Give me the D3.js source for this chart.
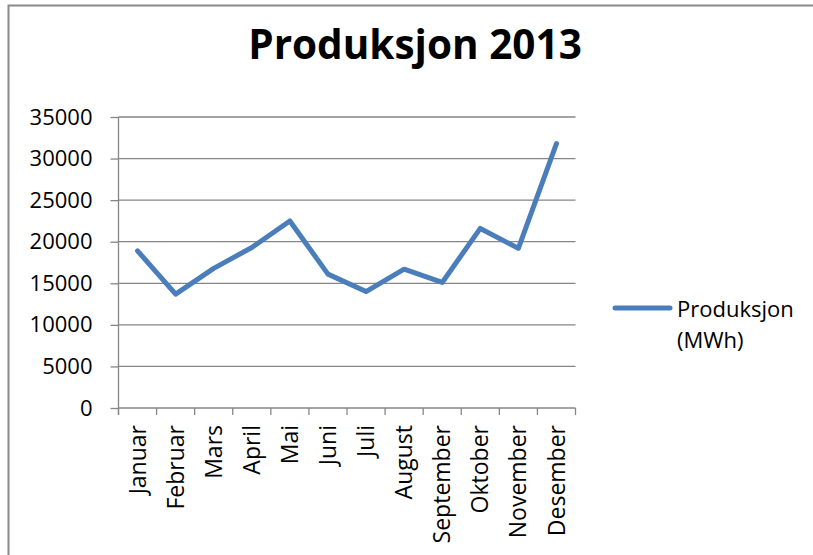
<!DOCTYPE html>
<html>
<head>
<meta charset="utf-8">
<script src="https://cdn.jsdelivr.net/npm/d3@7"></script>
<style>
body { margin: 0; background: #fff; }
text { font-family: "Open Sans", sans-serif; fill: #000; }
</style>
</head>
<body>
<svg width="813" height="555"></svg>
<script>
var months = ["Januar", "Februar", "Mars", "April", "Mai", "Juni", "Juli",
              "August", "September", "Oktober", "November", "Desember"];
var produksjon = [18900, 13700, 16800, 19300, 22500, 16100, 14000, 16700, 15100, 21600, 19200, 31800];
var yTicks = [0, 5000, 10000, 15000, 20000, 25000, 30000, 35000];
var title = "Produksjon 2013";
var legendLines = ["Produksjon", "(MWh)"];

var svg = d3.select("svg");
var margin = {top: 117, left: 118.5},
    width = 457,
    height = 291;
var gridColor = "#868686",
    lineColor = "#4a7ebb";

// outer chart border (right and bottom are cut off)
svg.append("path")
    .attr("d", "M8.5,555V5.5H813")
    .attr("fill", "none")
    .attr("stroke", "#8a8a8a")
    .attr("stroke-width", 2);

svg.append("text")
    .attr("x", 415)
    .attr("y", 59)
    .attr("text-anchor", "middle")
    .style("font-size", "40.5px")
    .style("font-weight", "bold")
    .text(title);

var x = d3.scaleBand().domain(months).range([0, width]).padding(0),
    y = d3.scaleLinear().domain([0, 35000]).range([height, 0]);

var g = svg.append("g")
    .attr("transform", "translate(" + margin.left + "," + margin.top + ")");

// gridlines
g.selectAll(".grid")
    .data(yTicks)
    .enter().append("line")
    .attr("class", "grid")
    .attr("x1", 0)
    .attr("x2", width)
    .attr("y1", function(d) { return y(d); })
    .attr("y2", function(d) { return y(d); })
    .attr("stroke", gridColor)
    .attr("stroke-width", 1.3);

// y axis
var yAxis = g.append("g")
    .call(d3.axisLeft(y).tickValues(yTicks).tickSize(8).tickPadding(18).tickFormat(d3.format("d")));
yAxis.select(".domain").remove();
yAxis.selectAll(".tick line").attr("stroke", gridColor).attr("stroke-width", 1.3);
yAxis.selectAll("text").style("font-size", "22px").attr("fill", "#000");

g.append("line")
    .attr("x1", 0).attr("x2", 0)
    .attr("y1", 0).attr("y2", height + 7)
    .attr("stroke", gridColor)
    .attr("stroke-width", 1.3);

// x axis: labels at category centres, ticks at category edges
var xAxis = g.append("g")
    .attr("transform", "translate(0," + height + ")")
    .call(d3.axisBottom(x).tickSize(0));
xAxis.select(".domain").remove();
xAxis.selectAll("text")
    .attr("transform", "rotate(-90)")
    .attr("x", -17)
    .attr("y", 0)
    .attr("dy", "0.35em")
    .attr("text-anchor", "end")
    .attr("fill", "#000")
    .style("font-size", "23px");

var edges = months.map(function(m) { return x(m); }).concat([x.range()[1]]);
g.selectAll(".xtick")
    .data(edges)
    .enter().append("line")
    .attr("class", "xtick")
    .attr("x1", function(d) { return d; })
    .attr("x2", function(d) { return d; })
    .attr("y1", height)
    .attr("y2", height + 7)
    .attr("stroke", gridColor)
    .attr("stroke-width", 1.3);

// series line
var line = d3.line()
    .x(function(d, i) { return x(months[i]) + x.bandwidth() / 2; })
    .y(function(d) { return y(d); });

g.append("path")
    .datum(produksjon)
    .attr("d", line)
    .attr("fill", "none")
    .attr("stroke", lineColor)
    .attr("stroke-width", 5)
    .attr("stroke-linejoin", "round")
    .attr("stroke-linecap", "round");

// legend
var legend = svg.append("g").attr("transform", "translate(615,308)");
legend.append("line")
    .attr("x1", 0).attr("x2", 55)
    .attr("y1", 0).attr("y2", 0)
    .attr("stroke", lineColor)
    .attr("stroke-width", 5)
    .attr("stroke-linecap", "round");
legend.selectAll(".leg")
    .data(legendLines)
    .enter().append("text")
    .attr("class", "leg")
    .attr("x", 62)
    .attr("y", function(d, i) { return 9 + i * 31; })
    .style("font-size", "22px")
    .text(function(d) { return d; });
</script>
</body>
</html>
